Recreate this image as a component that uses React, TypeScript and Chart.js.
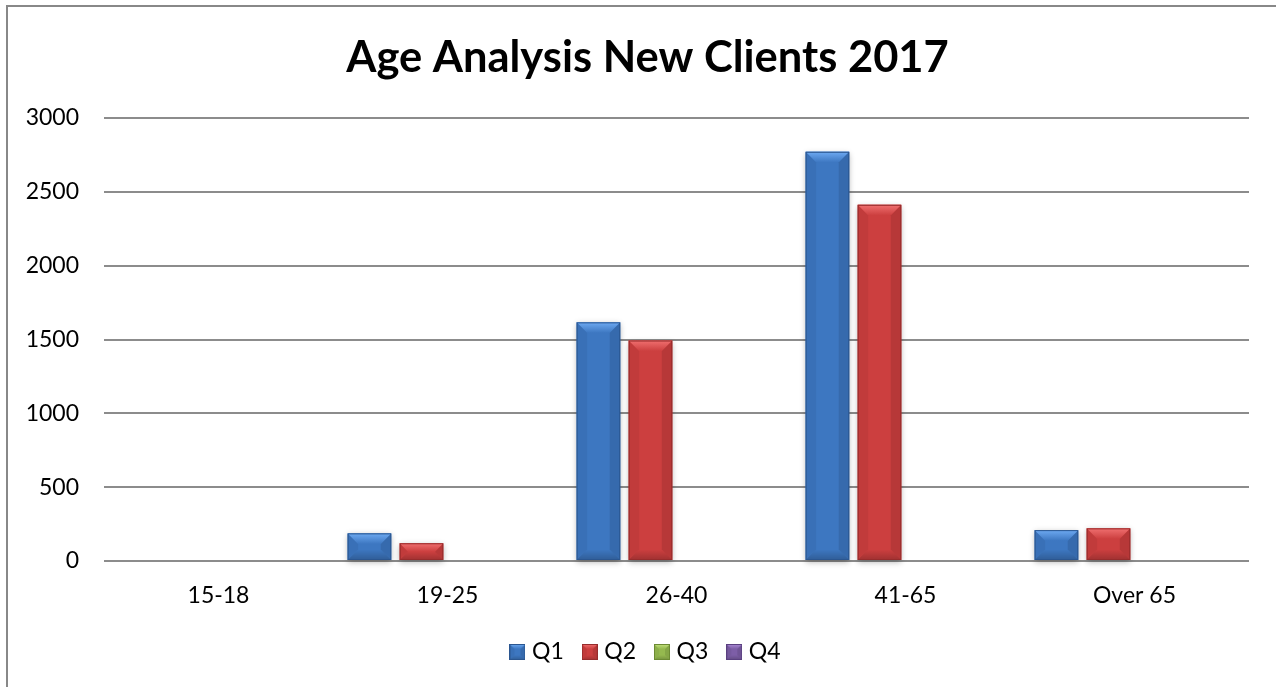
import React, { useEffect, useRef } from 'react';
import { Chart, registerables } from 'chart.js';

Chart.register(...registerables);

// ---- data ----
const categories = ['15-18', '19-25', '26-40', '41-65', 'Over 65'];
const seriesNames = ['Q1', 'Q2', 'Q3', 'Q4'];
const q1Values = [0, 187, 1616, 2771, 209];
const q2Values = [0, 120, 1493, 2412, 221];
const q3Values = [0, 0, 0, 0, 0];
const q4Values = [0, 0, 0, 0, 0];
const yMin = 0;
const yMax = 3000;
const yStep = 500;
const titleText = 'Age Analysis New Clients 2017';

// ---- styles ----
const palettes = [
  { base: '#3d77c1', light: '#6eaaf2', edge: '#2b5690' },
  { base: '#cc3f3f', light: '#f07070', edge: '#962c2c' },
  { base: '#95b94f', light: '#c4e27e', edge: '#6c8a33' },
  { base: '#7d5ea7', light: '#ab8ad6', edge: '#5a4080' },
];
const FONT = 'Lato, "Open Sans", sans-serif';
const CANVAS_W = 1295;
const CANVAS_H = 687;

function drawBevelBox(ctx: CanvasRenderingContext2D, l: number, t: number, r: number, b: number, pal: any, depth: number, shadow: boolean) {
  const w = r - l;
  const h = b - t;
  if (h < 1 || w < 1) return;
  const d = Math.min(depth, h / 2, w / 2);
  ctx.save();
  if (shadow) {
    ctx.shadowColor = 'rgba(0,0,0,0.3)';
    ctx.shadowBlur = 6;
    ctx.shadowOffsetX = 0;
    ctx.shadowOffsetY = 2;
  }
  ctx.fillStyle = pal.base;
  ctx.fillRect(l, t, w, h);
  ctx.restore();

  ctx.save();
  // left strip
  ctx.fillStyle = 'rgba(0,0,0,0.05)';
  ctx.beginPath();
  ctx.moveTo(l, t); ctx.lineTo(l + d, t + d); ctx.lineTo(l + d, b - d); ctx.lineTo(l, b); ctx.closePath();
  ctx.fill();
  // right strip
  ctx.fillStyle = 'rgba(0,0,0,0.10)';
  ctx.beginPath();
  ctx.moveTo(r, t); ctx.lineTo(r - d, t + d); ctx.lineTo(r - d, b - d); ctx.lineTo(r, b); ctx.closePath();
  ctx.fill();
  // bottom soft dark band
  const gb = ctx.createLinearGradient(0, b - d, 0, b);
  gb.addColorStop(0, 'rgba(0,0,0,0)');
  gb.addColorStop(1, 'rgba(0,0,0,0.22)');
  ctx.fillStyle = gb;
  ctx.beginPath();
  ctx.moveTo(l, b); ctx.lineTo(l + d, b - d); ctx.lineTo(r - d, b - d); ctx.lineTo(r, b); ctx.closePath();
  ctx.fill();
  // top bevel
  const g = ctx.createLinearGradient(0, t, 0, t + d);
  g.addColorStop(0, pal.light);
  g.addColorStop(1, pal.base);
  ctx.fillStyle = g;
  ctx.beginPath();
  ctx.moveTo(l, t); ctx.lineTo(r, t); ctx.lineTo(r - d, t + d); ctx.lineTo(l + d, t + d); ctx.closePath();
  ctx.fill();
  // edge
  ctx.strokeStyle = pal.edge;
  ctx.lineWidth = 1;
  ctx.strokeRect(l + 0.5, t + 0.5, w - 1, h - 1);
  ctx.restore();
}

function makeLegendIcon(pal: any): HTMLCanvasElement {
  const c = document.createElement('canvas');
  c.width = 16;
  c.height = 16;
  const cx = c.getContext('2d')!;
  drawBevelBox(cx, 0, 0, 16, 16, pal, 5, false);
  return c;
}

const bevelPlugin = {
  id: 'bevelBars',
  afterDatasetDraw(chart: any, args: any) {
    const meta = args.meta;
    const pal = palettes[args.index];
    const ctx = chart.ctx as CanvasRenderingContext2D;
    meta.data.forEach((el: any) => {
      const { x, y, base, width } = el.getProps(['x', 'y', 'base', 'width'], true);
      const top = Math.min(y, base);
      const bot = Math.max(y, base);
      if (bot - top < 1) return;
      drawBevelBox(ctx, x - width / 2, top, x + width / 2, bot, pal, 10.5, true);
    });
  },
};

const borderPlugin = {
  id: 'outerBorder',
  afterDraw(chart: any) {
    const ctx = chart.ctx as CanvasRenderingContext2D;
    ctx.save();
    ctx.strokeStyle = '#888888';
    ctx.lineWidth = 2;
    ctx.strokeRect(7, 6, 4000, 4000);
    ctx.restore();
  },
};

export default function App() {
  const ref = useRef<HTMLCanvasElement>(null);
  useEffect(() => {
    if (!ref.current) return;
    const icons = palettes.map(makeLegendIcon);
    const seriesValues = [q1Values, q2Values, q3Values, q4Values];
    const chart = new Chart(ref.current, {
      type: 'bar',
      data: {
        labels: categories,
        datasets: seriesNames.map((name, i) => ({
          label: name,
          data: seriesValues[i],
          backgroundColor: palettes[i].base,
          borderWidth: 0,
          categoryPercentage: 0.909,
          barPercentage: 0.837,
        })),
      },
      options: {
        responsive: false,
        animation: false,
        devicePixelRatio: 1,
        layout: { padding: { left: 0, right: 0, top: 32, bottom: 13.5 } },
        plugins: {
          tooltip: { enabled: false },
          title: {
            display: true,
            text: titleText,
            color: '#000',
            font: { family: FONT, size: 43.5, weight: 'bold' },
            padding: { top: 0, bottom: 33.8 },
          },
          legend: {
            position: 'bottom',
            labels: {
              usePointStyle: true,
              pointStyleWidth: 6,
              color: '#000',
              font: { family: FONT, size: 23 },
              padding: 23,
              generateLabels: (c: any) =>
                (Chart.defaults.plugins.legend.labels.generateLabels as any)(c).map((it: any, i: number) => ({
                  ...it,
                  pointStyle: icons[i],
                })),
            },
          },
        },
        scales: {
          x: {
            grid: { display: false },
            border: { display: false },
            ticks: { color: '#000', font: { family: FONT, size: 23 }, padding: 13 },
            afterFit: (s: any) => { s.height = 56.5; },
          },
          y: {
            min: yMin,
            max: yMax,
            grid: { color: '#8c8c8c', lineWidth: 2, drawTicks: false },
            border: { display: false },
            ticks: {
              stepSize: yStep,
              color: '#000',
              font: { family: FONT, size: 23 },
              padding: 25,
              callback: (v: any) => String(v),
            },
            afterFit: (s: any) => { s.width = 104; },
          },
          y2: {
            position: 'right',
            grid: { display: false },
            border: { display: false },
            ticks: { display: false },
            afterFit: (s: any) => { s.width = CANVAS_W - 1249; },
          },
        },
      },
      plugins: [bevelPlugin, borderPlugin],
    } as any);
    return () => chart.destroy();
  }, []);
  return (
    <div style={{ position: 'fixed', left: 0, top: 0, width: 1276, height: 687, overflow: 'hidden', background: '#fff' }}>
      <canvas ref={ref} width={CANVAS_W} height={CANVAS_H} style={{ width: CANVAS_W, height: CANVAS_H, display: 'block' }} />
    </div>
  );
}
